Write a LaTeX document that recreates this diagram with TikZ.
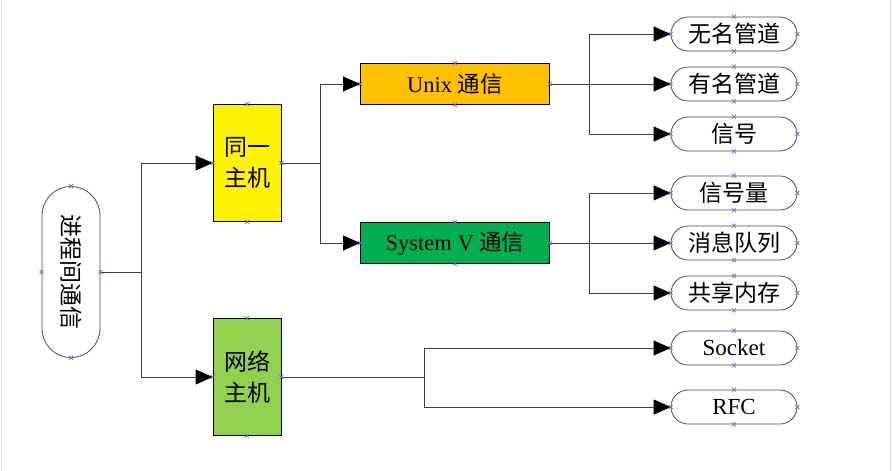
\documentclass[tikz,border=0pt]{standalone}
\usepackage{fontspec}
\usepackage{graphicx}
\setmainfont{Liberation Serif}
\newfontfamily\cjk{Noto Sans CJK SC}
\newcommand{\zh}[1]{{\cjk #1}}
\usetikzlibrary{arrows.meta}

\definecolor{unixorange}{RGB}{255,192,0}
\definecolor{sysvgreen}{RGB}{0,176,80}
\definecolor{netgreen}{RGB}{146,208,80}
\definecolor{markblue}{RGB}{100,100,255}

\tikzset{
	rootbox/.style={draw=black!70, line width=0.8pt, rounded corners=29pt, minimum width=58pt, minimum height=171pt, inner sep=0pt, font=\cjk\fontsize{23}{26}\selectfont},
	hostbox/.style={draw=black, line width=0.8pt, minimum width=68pt, minimum height=117pt, inner sep=0pt, align=center, font=\cjk\fontsize{23}{31}\selectfont},
	kindbox/.style={draw=black, line width=0.8pt, minimum width=189pt, minimum height=41pt, inner sep=0pt, font=\fontsize{22.5}{26}\selectfont},
	leafbox/.style={draw=black!70, line width=0.8pt, rounded corners=17pt, minimum width=126pt, minimum height=34pt, inner sep=0pt, font=\fontsize{23}{26}\selectfont},
	link/.style={draw=black!75, line width=0.8pt},
	tolink/.style={link, -{Triangle[length=17pt, width=15pt, color=black]}},
	anchormark/.style={draw=markblue, line width=0.7pt},
}

\begin{document}
\begin{tikzpicture}[x=1pt, y=-1pt]
\useasboundingbox (0,0) rectangle (892,471);
\fill[white] (0,0) rectangle (892,471);
\draw[black!12, line width=1pt] (1,0) -- (1,471);
\draw[black!12, line width=1pt] (890,0) -- (890,471);

% tree nodes
\node[rootbox] (root) at (71,272) {\rotatebox{-90}{进程间通信}};
\node[hostbox, fill=yellow] (same) at (247,163) {同一\\主机};
\node[hostbox, fill=netgreen] (net) at (247,377) {网络\\主机};
\node[kindbox, fill=unixorange] (unix) at (455,84) {Unix \zh{通信}};
\node[kindbox, fill=sysvgreen] (sysv) at (455,243) {System V \zh{通信}};

\node[leafbox] (pipe) at (734,34) {\zh{无名管道}};
\node[leafbox] (fifo) at (734,84) {\zh{有名管道}};
\node[leafbox] (signal) at (734,134) {\zh{信号}};
\node[leafbox] (sem) at (734,193) {\zh{信号量}};
\node[leafbox] (msgq) at (734,243) {\zh{消息队列}};
\node[leafbox] (shm) at (734,293) {\zh{共享内存}};
\node[leafbox] (socket) at (734,348) {Socket};
\node[leafbox] (rfc) at (734,407) {RFC};

% junctions
\coordinate (jroot) at (141,272);
\coordinate (jsame) at (320,163);
\coordinate (junix) at (589,84);
\coordinate (jsysv) at (589,243);
\coordinate (jnet) at (424,377);

\draw[link] (root.east) -- (jroot);
\draw[tolink] (jroot) |- (same.west);
\draw[tolink] (jroot) |- (net.west);

\draw[link] (same.east) -- (jsame);
\draw[tolink] (jsame) |- (unix.west);
\draw[tolink] (jsame) |- (sysv.west);

\draw[link] (unix.east) -- (junix);
\draw[tolink] (junix) |- (pipe.west);
\draw[tolink] (junix) -- (fifo.west);
\draw[tolink] (junix) |- (signal.west);

\draw[link] (sysv.east) -- (jsysv);
\draw[tolink] (jsysv) |- (sem.west);
\draw[tolink] (jsysv) -- (msgq.west);
\draw[tolink] (jsysv) |- (shm.west);

\draw[link] (net.east) -- (jnet);
\draw[tolink] (jnet) |- (socket.west);
\draw[tolink] (jnet) |- (rfc.west);

% connection point marks
\foreach \n in {root, same, net, unix, sysv, pipe, fifo, signal, sem, msgq, shm, socket, rfc} {
	\foreach \a in {north, south, east, west} {
		\draw[anchormark] ([shift={(-2,-2)}]\n.\a) -- ([shift={(2,2)}]\n.\a)
			([shift={(-2,2)}]\n.\a) -- ([shift={(2,-2)}]\n.\a);
	}
}
\end{tikzpicture}
\end{document}
